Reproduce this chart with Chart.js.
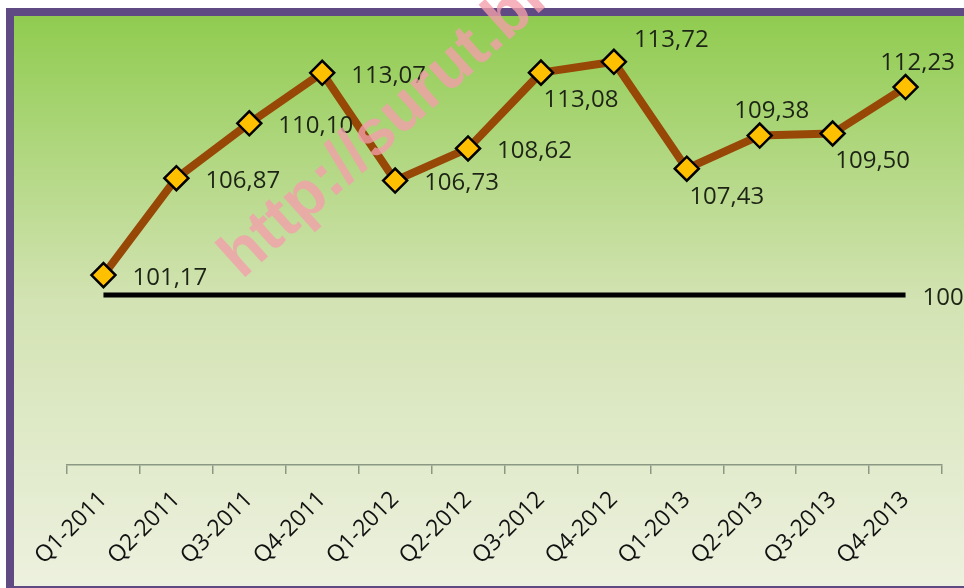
<!DOCTYPE html>
<html>
<head>
<meta charset="utf-8">
<script src="https://cdn.jsdelivr.net/npm/chart.js@4.4.0/dist/chart.umd.min.js"></script>
<style>
  html, body { margin: 0; padding: 0; background: #fff; }
</style>
</head>
<body>
<canvas id="grafico" width="964" height="588"></canvas>
<script>
// Datos del gráfico
const trimestres = ['Q1-2011', 'Q2-2011', 'Q3-2011', 'Q4-2011', 'Q1-2012', 'Q2-2012',
                    'Q3-2012', 'Q4-2012', 'Q1-2013', 'Q2-2013', 'Q3-2013', 'Q4-2013'];
const indice = [101.17, 106.87, 110.10, 113.07, 106.73, 108.62, 113.08, 113.72, 107.43, 109.38, 109.50, 112.23];
const base = [100, 100, 100, 100, 100, 100, 100, 100, 100, 100, 100, 100];
// Dónde va cada etiqueta respecto a su punto
const ubicacionEtiquetas = ['right', 'right', 'right', 'right', 'right', 'right',
                            'below', 'aboveRight', 'below', 'above', 'below', 'above'];
const marcaAgua = 'http://surut.blogspot.com';

const fuente = '"Open Sans", "DejaVu Sans", sans-serif';

// Formato con coma decimal
const formato = v => v.toFixed(2).replace('.', ',');

// Fondo degradado y marco violeta
const fondo = {
    id: 'fondo',
    beforeDraw(chart) {
        const ctx = chart.ctx;
        const w = chart.width, h = chart.height;
        ctx.save();
        ctx.fillStyle = '#ffffff';
        ctx.fillRect(0, 0, w, h);
        const g = ctx.createLinearGradient(0, 16, 0, 586);
        g.addColorStop(0, '#90cc50');
        g.addColorStop(0.5, '#d3e3b3');
        g.addColorStop(1, '#edf1df');
        ctx.fillStyle = g;
        ctx.fillRect(14, 16, w - 14, 570);
        ctx.fillStyle = '#604a84';
        ctx.fillRect(6, 8, w - 6, 8);   // arriba
        ctx.fillRect(6, 8, 8, h - 8);   // izquierda
        ctx.fillRect(6, 586, w - 6, 4); // abajo
        ctx.restore();
    }
};

// Etiquetas de valores al lado de cada punto
const etiquetasValores = {
    id: 'etiquetasValores',
    afterDatasetsDraw(chart) {
        const ctx = chart.ctx;
        const puntos = chart.getDatasetMeta(0).data;
        ctx.save();
        ctx.font = '24px ' + fuente;
        ctx.fillStyle = '#1d2416';
        ctx.textBaseline = 'middle';
        puntos.forEach((p, i) => {
            const texto = formato(indice[i]);
            const lugar = ubicacionEtiquetas[i];
            if (lugar === 'right') {
                ctx.textAlign = 'left';
                ctx.fillText(texto, p.x + 29, p.y + 3);
            } else if (lugar === 'below') {
                ctx.textAlign = 'center';
                ctx.fillText(texto, p.x + 40, p.y + 28);
            } else if (lugar === 'above') {
                ctx.textAlign = 'center';
                ctx.fillText(texto, p.x + 12, p.y - 24);
            } else if (lugar === 'aboveRight') {
                ctx.textAlign = 'left';
                ctx.fillText(texto, p.x + 20, p.y - 22);
            }
        });
        // etiqueta de la línea base
        const baseMeta = chart.getDatasetMeta(1).data;
        const ultimo = baseMeta[baseMeta.length - 1];
        ctx.textAlign = 'left';
        ctx.fillText(String(base[base.length - 1]), ultimo.x + 17, ultimo.y + 3);
        ctx.restore();
    },
    afterDraw(chart) {
        // marca de agua
        const ctx = chart.ctx;
        ctx.save();
        ctx.translate(242, 280);
        ctx.rotate(-42 * Math.PI / 180);
        ctx.font = 'bold 64px "Liberation Sans", Arial, sans-serif';
        ctx.fillStyle = 'rgba(243, 158, 170, 0.78)';
        ctx.textAlign = 'left';
        ctx.textBaseline = 'alphabetic';
        ctx.fillText(marcaAgua, 0, 0);
        ctx.restore();
    }
};

new Chart(document.getElementById('grafico'), {
    type: 'line',
    data: {
        labels: trimestres,
        datasets: [{
            label: 'Índice',
            data: indice,
            borderColor: '#974806',
            borderWidth: 8,
            borderJoinStyle: 'round',
            tension: 0,
            pointStyle: 'rectRot',
            pointRadius: 12,
            pointBackgroundColor: '#ffc000',
            pointBorderColor: '#000000',
            pointBorderWidth: 2.5,
            fill: false
        }, {
            label: 'Base',
            data: base,
            borderColor: '#000000',
            borderWidth: 5,
            pointRadius: 0,
            fill: false
        }]
    },
    options: {
        responsive: false,
        animation: false,
        layout: { padding: { left: 67, right: 22, top: 40, bottom: 23 } },
        plugins: {
            legend: { display: false },
            tooltip: { enabled: false }
        },
        scales: {
            x: {
                offset: true,
                grid: {
                    offset: true,
                    drawOnChartArea: false,
                    tickLength: 9,
                    color: '#8b9884',
                    lineWidth: 1.5
                },
                border: { display: true, color: '#8b9884', width: 1.5 },
                ticks: {
                    autoSkip: false,
                    minRotation: 45,
                    maxRotation: 45,
                    color: '#111111',
                    padding: 12,
                    font: { family: fuente, size: 23 }
                },
                afterFit(scale) {
                    scale.paddingLeft = 0;
                    scale.paddingRight = 0;
                    scale.height = 100;
                }
            },
            y: {
                display: false,
                min: 90,
                max: 115
            }
        }
    },
    plugins: [fondo, etiquetasValores]
});
</script>
</body>
</html>
